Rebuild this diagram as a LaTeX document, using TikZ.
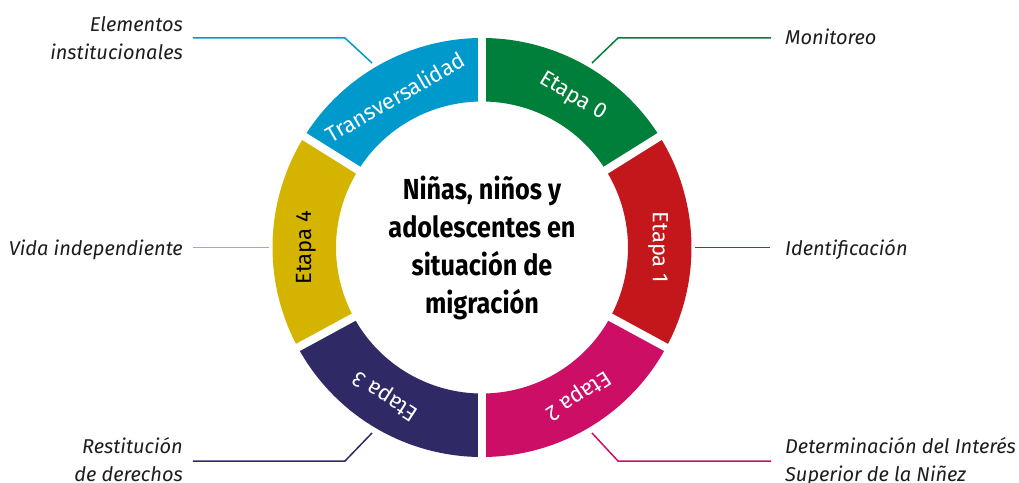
\documentclass[tikz,border=0pt]{standalone}
\usepackage{fontspec}
\setmainfont{Fira Sans}
\newfontfamily\centerfont[FakeStretch=0.87]{Fira Sans}
\definecolor{cblue}{HTML}{0099CB}
\definecolor{cgreen}{HTML}{007F3A}
\definecolor{cred}{HTML}{C3171C}
\definecolor{cmag}{HTML}{CC0E66}
\definecolor{cpurp}{HTML}{2F2966}
\definecolor{cyel}{HTML}{D5B400}
\definecolor{ctext}{HTML}{1D1D1B}
\tikzset{
  seglabel/.style={font=\fontsize{22}{26}\selectfont, text=white, inner sep=0pt},
  sidelabel/.style={font=\fontsize{20}{28.5}\selectfont\itshape, text=ctext, inner sep=0pt},
  conn/.style={line width=1.5pt},
  gapline/.style={white, line width=8pt},
}
\newcommand{\sector}[3]{%
  \fill[#3] (#1:209.5) arc[start angle=#1, end angle=#2, radius=209.5]
    -- (#2:146) arc[start angle=#2, end angle=#1, radius=146] -- cycle;}
\begin{document}
\begin{tikzpicture}[x=1pt,y=1pt]
\useasboundingbox (-482,-234.5) rectangle (537,247.5);
% ring sectors
\sector{32}{90}{cgreen}
\sector{-28.5}{32}{cred}
\sector{-90}{-28.5}{cmag}
\sector{-151.5}{-90}{cpurp}
\sector{148}{208.5}{cyel}
\sector{90}{148}{cblue}
% gaps
\foreach \a in {90,32,-28.5,-90,-151.5,148}
  \draw[gapline] (\a:140) -- (\a:215);
% segment labels
\node[seglabel, rotate=30]   (t)  at (120:174) {Transversalidad};
\node[seglabel, rotate=-31]  (e0) at (59:176) {Etapa 0};
\node[seglabel, rotate=-90]  (e1) at (0:176) {Etapa 1};
\node[seglabel, rotate=-147] (e2) at (-57:176) {Etapa 2};
\node[seglabel, rotate=147]  (e3) at (-123:176) {Etapa 3};
\node[seglabel, rotate=90, text=black] (e4) at (180:176) {Etapa 4};
% centre
\node[font=\centerfont\bfseries\fontsize{29}{38}\selectfont, align=center, text=black] (c) at (0,0)
  {Niñas, niños y\\adolescentes en\\situación de\\migración};
% connectors
\coordinate (tA) at (-110,184.5); \coordinate (tB) at (-137,209.5); \coordinate (tC) at (-289,209.5);
\coordinate (gA) at (110,184.5);  \coordinate (gB) at (136,209.5);  \coordinate (gC) at (289,209.5);
\coordinate (rA) at (213,0);      \coordinate (rC) at (288,0);
\coordinate (yA) at (-213,0);     \coordinate (yC) at (-289,0);
\coordinate (pA) at (-110,-185.5); \coordinate (pB) at (-137,-213.5); \coordinate (pC) at (-289,-213.5);
\coordinate (mA) at (110,-185.5);  \coordinate (mB) at (136,-213.5);  \coordinate (mC) at (289,-213.5);
\draw[conn, cblue] (tA) -- (tB) -- (tC);
\draw[conn, cgreen] (gA) -- (gB) -- (gC);
\draw[conn, cred] (rA) -- (rC);
\draw[conn, cyel] (yA) -- (yC);
\draw[conn, cpurp] (pA) -- (pB) -- (pC);
\draw[conn, cmag] (mA) -- (mB) -- (mC);
% side labels
\node[sidelabel, align=right, anchor=east] (lt) at (-299,209.6) {Elementos\\institucionales};
\node[sidelabel, anchor=base west] (lg) at (303,202.5) {Monitoreo};
\node[sidelabel, anchor=base west] (lr) at (303,-7.5) {Identificación};
\node[sidelabel, anchor=base east] (ly) at (-299,-7.5) {Vida independiente};
\node[sidelabel, align=right, anchor=east] (lp) at (-299,-212) {Restitución\\de derechos};
\node[sidelabel, align=left, anchor=west] (lm) at (303,-214) {Determinación del Interés\\Superior de la Niñez};
\end{tikzpicture}
\end{document}
